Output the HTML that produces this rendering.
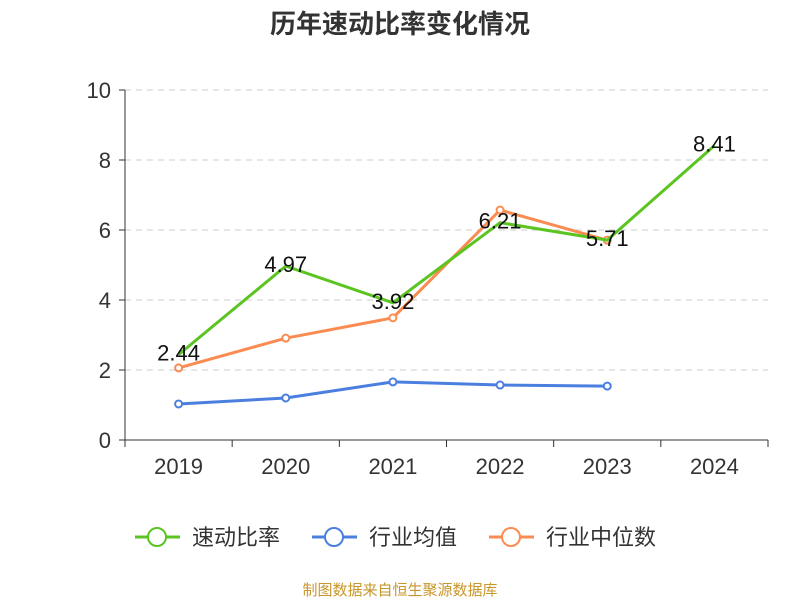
<!DOCTYPE html>
<html><head><meta charset="utf-8"><style>
body{margin:0;background:#fff}
svg{font-family:"Liberation Sans","Noto Sans CJK SC",sans-serif}
</style></head><body>
<svg id="c" width="800" height="600" xmlns="http://www.w3.org/2000/svg">
<text x="400" y="33" text-anchor="middle" font-size="26" font-weight="bold" fill="#333">历年速动比率变化情况</text>
<g id="grid"></g><g id="series"></g>
<g>
<g><line x1="135" y1="537" x2="180" y2="537" stroke="#5bc421" stroke-width="3"/><circle cx="157" cy="537" r="9" fill="#fff" stroke="#5bc421" stroke-width="2"/><text x="192" y="545" font-size="22" fill="#333">速动比率</text></g>
<g><line x1="312" y1="537" x2="357" y2="537" stroke="#4a7fe0" stroke-width="3"/><circle cx="334" cy="537" r="9" fill="#fff" stroke="#4a7fe0" stroke-width="2"/><text x="369" y="545" font-size="22" fill="#333">行业均值</text></g>
<g><line x1="489" y1="537" x2="534" y2="537" stroke="#fa8c52" stroke-width="3"/><circle cx="511" cy="537" r="9" fill="#fff" stroke="#fa8c52" stroke-width="2"/><text x="546" y="545" font-size="22" fill="#333">行业中位数</text></g>
</g>
<text x="400" y="595" text-anchor="middle" font-size="15" fill="#c8962a">制图数据来自恒生聚源数据库</text>
</svg>
<script>
const categories=["2019","2020","2021","2022","2023","2024"];
const quickRatio=[2.44,4.97,3.92,6.21,5.71,8.41];
const industryAvg=[1.03,1.2,1.66,1.57,1.54,null];
const industryMedian=[2.06,2.91,3.49,6.57,5.71,null];
const yTicks=[0,2,4,6,8,10];
const NS="http://www.w3.org/2000/svg";
const X0=125,X1=768,Y0=440,Y1=90,YMAX=10;
const bw=(X1-X0)/categories.length;
const xs=i=>X0+bw*(i+0.5);
const ys=v=>Y0-(v/YMAX)*(Y0-Y1);
function mk(t,a,p){const e=document.createElementNS(NS,t);for(const k in a)e.setAttribute(k,a[k]);p.appendChild(e);return e;}
const g=document.getElementById('grid'),s=document.getElementById('series');
yTicks.forEach(v=>{
 if(v>0){const l=mk('line',{x1:X0,x2:X1,y1:ys(v),y2:ys(v),stroke:'#ccc','stroke-dasharray':'6,5'},g);
 
 }
 mk('line',{x1:X0-6,x2:X0,y1:ys(v),y2:ys(v),stroke:'#333'},g);
 const t=mk('text',{x:X0-14,y:ys(v)+8,'text-anchor':'end','font-size':22,fill:'#333'},g);t.textContent=v;
 
 
});
mk('line',{x1:X0,x2:X0,y1:Y1,y2:Y0,stroke:'#333'},g);
mk('line',{x1:X0,x2:X1,y1:Y0,y2:Y0,stroke:'#333'},g);
for(let i=0;i<=categories.length;i++)mk('line',{x1:X0+bw*i,x2:X0+bw*i,y1:Y0,y2:Y0+7,stroke:'#333'},g);
categories.forEach((c,i)=>{const t=mk('text',{x:xs(i),y:Y0+34,'text-anchor':'middle','font-size':22,fill:'#333'},g);t.textContent=c;
 
 });
function line(data,color,name,markers,labels){
 const pts=[];data.forEach((v,i)=>{if(v!=null)pts.push([xs(i),ys(v),v]);});
 const p=mk('polyline',{points:pts.map(q=>q[0]+','+q[1]).join(' '),fill:'none',stroke:color,'stroke-width':3},s);
 
 
 pts.forEach(q=>{
  if(markers){const c=mk('circle',{cx:q[0],cy:q[1],r:3.5,fill:'#fff',stroke:color,'stroke-width':2},s);
   
   }
  if(labels){const t=mk('text',{x:q[0],y:q[1]+6,'text-anchor':'middle','font-size':22,fill:'#111'},s);t.textContent=q[2].toFixed(2);
   
   }
 });
}
line(industryAvg,'#4a7fe0','industry-average',true,false);
line(industryMedian,'#fa8c52','industry-median',true,false);
line(quickRatio,'#5bc421','quick-ratio',false,true);
</script>
</body></html>
